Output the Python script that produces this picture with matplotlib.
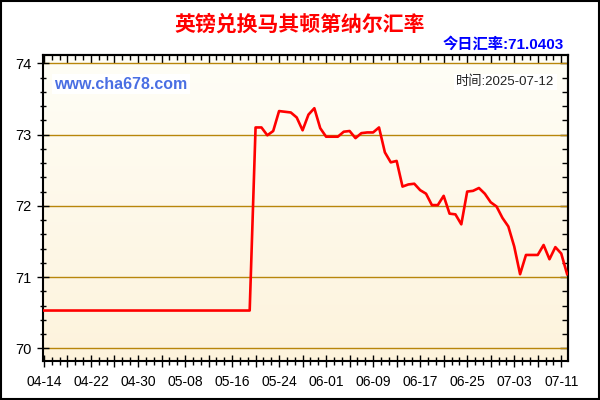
import matplotlib
matplotlib.use('Agg')
import matplotlib.pyplot as plt
import matplotlib.dates as mdates
from matplotlib.patches import Rectangle
import numpy as np
import pandas as pd

plt.rcParams['font.family'] = ['Liberation Sans', 'Noto Sans CJK SC', 'DejaVu Sans']

# GBP -> MKD rate --------------------------------------------------------------
dates = ['2025-04-14', '2025-05-19',
         '2025-05-20', '2025-05-21', '2025-05-22', '2025-05-23', '2025-05-24',
         '2025-05-25', '2025-05-26', '2025-05-27', '2025-05-28', '2025-05-29',
         '2025-05-30', '2025-05-31', '2025-06-01', '2025-06-02', '2025-06-03',
         '2025-06-04', '2025-06-05', '2025-06-06', '2025-06-07', '2025-06-08',
         '2025-06-09', '2025-06-10', '2025-06-11', '2025-06-12', '2025-06-13',
         '2025-06-14', '2025-06-15', '2025-06-16', '2025-06-17', '2025-06-18',
         '2025-06-19', '2025-06-20', '2025-06-21', '2025-06-22', '2025-06-23',
         '2025-06-24', '2025-06-25', '2025-06-26', '2025-06-27', '2025-06-28',
         '2025-06-29', '2025-06-30', '2025-07-01', '2025-07-02', '2025-07-03',
         '2025-07-04', '2025-07-05', '2025-07-06', '2025-07-07', '2025-07-08',
         '2025-07-09', '2025-07-10', '2025-07-11', '2025-07-12']
rates = [70.53, 70.53,
         73.10, 73.10, 72.99, 73.05, 73.33,
         73.32, 73.31, 73.24, 73.06, 73.28,
         73.37, 73.09, 72.97, 72.97, 72.97,
         73.04, 73.05, 72.95, 73.02, 73.03,
         73.03, 73.10, 72.75, 72.61, 72.63,
         72.27, 72.30, 72.31, 72.22, 72.17,
         72.01, 72.01, 72.14, 71.89, 71.88,
         71.74, 72.20, 72.21, 72.25, 72.17,
         72.05, 71.99, 71.83, 71.71, 71.43,
         71.04, 71.31, 71.31, 71.31, 71.45,
         71.25, 71.42, 71.33, 71.0403]

title = '英镑兑换马其顿第纳尔汇率'
today_rate = '今日汇率:71.0403'
stamp = '时间:2025-07-12'
site = 'www.cha678.com'

x = pd.to_datetime(dates)
start = pd.Timestamp('2025-04-14')

# -----------------------------------------------------------------------------
fig = plt.figure(figsize=(6, 4), dpi=100)
fig.patch.set_facecolor('white')
ax = fig.add_axes([0.0712, 0.0983, 0.8748, 0.7642])

x0 = start - pd.Timedelta(hours=5)
x1 = pd.Timestamp('2025-07-12') + pd.Timedelta(hours=2)
y0, y1 = 69.826, 74.117

# cream gradient background
grad = np.linspace(0, 1, 256).reshape(-1, 1)
top = np.array([255, 254, 247]) / 255.
bot = np.array([253, 243, 220]) / 255.
img = top[None, None, :] * (1 - grad[:, :, None]) + bot[None, None, :] * grad[:, :, None]
ax.imshow(img, extent=[mdates.date2num(x0), mdates.date2num(x1), y0, y1],
          aspect='auto', zorder=0, origin='upper')

for v in [70, 71, 72, 73, 74]:
    ax.axhline(v, color='#B8860B', lw=1.0, zorder=1)

ax.plot(x, rates, color='#FF0000', lw=1.9, zorder=3, solid_joinstyle='round')

# axes decorations
for s in ['bottom', 'left', 'top', 'right']:
    ax.spines[s].set_linewidth(1.5)
    ax.spines[s].set_color('black')

yt_major = [70, 71, 72, 73, 74]
yt_minor = np.arange(69.8, 74.1, 0.2)
ax.set_yticks(yt_major)
ax.set_yticks(yt_minor, minor=True)
ax.yaxis.set_tick_params(which='major', direction='inout', length=8, width=1,
                         labelsize=10.5, pad=4)
ax.yaxis.set_tick_params(which='minor', direction='inout', length=5, width=1)

major = pd.date_range(start, periods=23, freq='4D')
labels = [d.strftime('%m-%d') if i % 2 == 0 else '' for i, d in enumerate(major)]
minor = pd.date_range(start, x1, freq='32h')
ax.set_xticks(major)
ax.set_xticklabels(labels)
ax.set_xticks(minor, minor=True)
ax.xaxis.set_tick_params(which='major', direction='inout', length=9, width=1,
                         labelsize=10, pad=6)
ax.xaxis.set_tick_params(which='minor', direction='inout', length=6, width=1)

# set limits last, ticks would otherwise widen them
ax.set_xlim(x0, x1)
ax.set_ylim(y0, y1)

# inward ticks on the top and right edges
secx = ax.secondary_xaxis('top')
secx.set_xticks(major)
secx.set_xticks(minor, minor=True)
secx.tick_params(which='major', direction='in', length=6, width=1, labeltop=False)
secx.tick_params(which='minor', direction='in', length=3.5, width=1)
secx.spines['top'].set_linewidth(1.5)

secy = ax.secondary_yaxis('right')
secy.set_yticks(yt_major)
secy.set_yticks(yt_minor, minor=True)
secy.tick_params(which='major', direction='in', length=6, width=1, labelright=False)
secy.tick_params(which='minor', direction='in', length=4, width=1)
secy.spines['right'].set_linewidth(1.5)

# texts
fig.text(0.5, 0.94, title, color='#FF0000', fontsize=15, fontweight='bold',
         ha='center', va='center', family=['Noto Sans CJK SC'])
fig.text(0.94, 0.89, today_rate, color='#0000FF', fontsize=11, fontweight='bold',
         ha='right', va='center')
ax.text(0.022, 0.905, site, transform=ax.transAxes, color='#4A6FE3',
        fontsize=11.5, fontweight='bold', ha='left', va='center',
        bbox=dict(facecolor='white', edgecolor='none', pad=1.5), zorder=5)
ax.text(0.975, 0.912, stamp, transform=ax.transAxes, color='#222222',
        fontsize=9.5, ha='right', va='center',
        bbox=dict(facecolor='white', edgecolor='none', pad=1.5), zorder=5)

fig.patches.append(Rectangle((0.001, 0.0015), 0.997, 0.996, transform=fig.transFigure,
                             fill=False, edgecolor='black', lw=1.5))

if __name__ == '__main__':
    plt.savefig('out.png', dpi=100)
